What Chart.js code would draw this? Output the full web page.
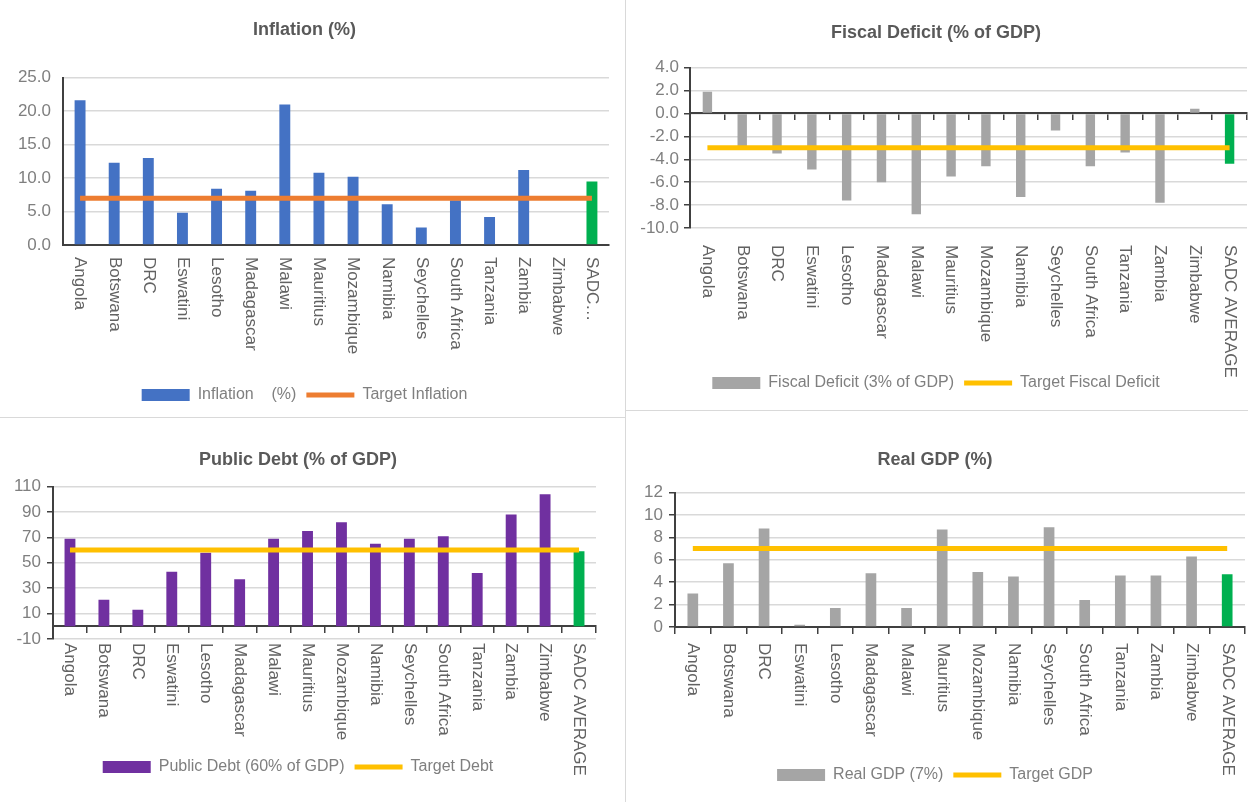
<!DOCTYPE html>
<html>
<head>
<meta charset="utf-8">
<script src="https://cdn.jsdelivr.net/npm/chart.js@4.4.0/dist/chart.umd.min.js"></script>
<style>
body { margin: 0; background: #fff; width: 1248px; height: 802px; overflow: hidden; position: relative; }
canvas { position: absolute; }
.line { position: absolute; background: #d9d9d9; }
</style>
</head>
<body>
<canvas id="inflationChart" width="625" height="418" style="left:0;top:0"></canvas>
<canvas id="fiscalChart" width="623" height="418" style="left:625px;top:0"></canvas>
<canvas id="debtChart" width="625" height="384" style="left:0;top:418px"></canvas>
<canvas id="gdpChart" width="623" height="384" style="left:625px;top:418px"></canvas>
<div class="line" style="left:625px;top:0;width:1px;height:802px"></div>
<div class="line" style="left:0;top:417px;width:625px;height:1px"></div>
<div class="line" style="left:626px;top:410px;width:622px;height:1px"></div>
<script>
var countries = ['Angola', 'Botswana', 'DRC', 'Eswatini', 'Lesotho', 'Madagascar', 'Malawi', 'Mauritius',
    'Mozambique', 'Namibia', 'Seychelles', 'South Africa', 'Tanzania', 'Zambia', 'Zimbabwe', 'SADC AVERAGE'];
// the inflation panel cuts the last label short
var inflationLabels = ['Angola', 'Botswana', 'DRC', 'Eswatini', 'Lesotho', 'Madagascar', 'Malawi', 'Mauritius',
    'Mozambique', 'Namibia', 'Seychelles', 'South Africa', 'Tanzania', 'Zambia', 'Zimbabwe', 'SADC\u2026'];

var inflation = [21.6, 12.3, 13.0, 4.8, 8.4, 8.1, 21.0, 10.8, 10.2, 6.1, 2.6, 6.7, 4.2, 11.2, null, 9.5];
var inflationTarget = [7, 7, 7, 7, 7, 7, 7, 7, 7, 7, 7, 7, 7, 7, 7, 7];
var inflationTicks = [0, 5, 10, 15, 20, 25];

var fiscalDeficit = [1.9, -2.9, -3.5, -4.9, -7.6, -6.0, -8.8, -5.5, -4.6, -7.3, -1.5, -4.6, -3.4, -7.8, 0.4, -4.4];
var fiscalTarget = [-3, -3, -3, -3, -3, -3, -3, -3, -3, -3, -3, -3, -3, -3, -3, -3];
var fiscalTicks = [-10, -8, -6, -4, -2, 0, 2, 4];

var publicDebt = [69, 21, 13, 43, 58, 37, 69, 75, 82, 65, 69, 71, 42, 88, 104, 59];
var debtTarget = [60, 60, 60, 60, 60, 60, 60, 60, 60, 60, 60, 60, 60, 60, 60, 60];
var debtTicks = [-10, 10, 30, 50, 70, 90, 110];

var realGdp = [3.0, 5.7, 8.8, 0.2, 1.7, 4.8, 1.7, 8.7, 4.9, 4.5, 8.9, 2.4, 4.6, 4.6, 6.3, 4.7];
var gdpTarget = [7, 7, 7, 7, 7, 7, 7, 7, 7, 7, 7, 7, 7, 7, 7, 7];
var gdpTicks = [0, 2, 4, 6, 8, 10, 12];

var FONT = "'Liberation Sans', Arial, sans-serif";
var GREEN = '#00B050';

// category names are written top-to-bottom, like the Excel original
var verticalLabels = {
    id: 'verticalLabels',
    afterDraw: function(chart, args, opts) {
        var ctx = chart.ctx;
        var xs = chart.scales.x;
        var top = chart.chartArea.bottom + opts.offset;
        ctx.save();
        ctx.font = '17px ' + FONT;
        ctx.fillStyle = '#626262';
        ctx.textAlign = 'left';
        ctx.textBaseline = 'middle';
        opts.labels.forEach(function(label, i) {
            ctx.save();
            ctx.translate(xs.getPixelForValue(i), top);
            ctx.rotate(Math.PI / 2);
            ctx.fillText(label, 0, 0);
            ctx.restore();
        });
        ctx.restore();
    }
};

function barColors(values, color) {
    return values.map(function(v, i) { return i === values.length - 1 ? GREEN : color; });
}

function makeChart(id, c) {
    var ctx = document.getElementById(id).getContext('2d');
    return new Chart(ctx, {
        type: 'bar',
        data: {
            labels: countries,
            datasets: [{
                label: c.barLabel,
                data: c.values,
                backgroundColor: barColors(c.values, c.barColor),
                barPercentage: c.barPct,
                categoryPercentage: 1,
                pointStyle: 'rect',
                order: 1
            }, {
                type: 'line',
                label: c.lineLabel,
                data: c.target,
                borderColor: c.lineColor,
                backgroundColor: c.lineColor,
                borderWidth: 5,
                pointRadius: 0,
                pointStyle: 'line',
                order: 0
            }]
        },
        plugins: [verticalLabels],
        options: {
            responsive: false,
            animation: false,
            layout: { padding: { left: 0, right: c.padRight, top: 0, bottom: c.padBottom } },
            plugins: {
                title: {
                    display: true, text: c.title, color: '#595959',
                    font: { family: FONT, size: 18, weight: 'bold' },
                    padding: { top: c.titleTop, bottom: c.titleBottom }
                },
                legend: {
                    position: 'bottom',
                    labels: {
                        usePointStyle: true, pointStyleWidth: 48, boxHeight: 12,
                        color: '#7f7f7f', font: { family: FONT, size: 16 }, padding: 10,
                        sort: function(a, b) { return a.datasetIndex - b.datasetIndex; }
                    }
                },
                tooltip: { enabled: false },
                verticalLabels: { labels: c.labels, offset: c.labelOffset }
            },
            scales: {
                x: {
                    axis: 'x',
                    position: { y: 0 },
                    grid: { drawOnChartArea: false, offset: true, drawTicks: c.xTicks, tickLength: 6, color: '#404040', lineWidth: 1.5 },
                    border: { color: '#404040', width: 2 },
                    ticks: { display: false }
                },
                xPad: {
                    axis: 'x', type: 'category', position: 'bottom',
                    grid: { display: false }, border: { display: false }, ticks: { display: false },
                    afterFit: function(s) { s.height = c.labelSpace; }
                },
                y: {
                    min: c.ticks[0],
                    max: c.ticks[c.ticks.length - 1],
                    afterBuildTicks: function(axis) {
                        axis.ticks = c.ticks.map(function(v) { return { value: v }; });
                    },
                    afterFit: function(s) { s.width = c.yWidth; },
                    ticks: {
                        autoSkip: false,
                        color: '#7f7f7f', font: { family: FONT, size: 17 }, padding: c.yPad,
                        callback: function(v) { return c.decimals ? v.toFixed(1) : String(v); }
                    },
                    grid: { color: '#d9d9d9', tickColor: '#404040', drawTicks: c.yTicks, tickLength: 6, lineWidth: 1.5 },
                    border: { color: '#404040', width: 2 }
                }
            }
        }
    });
}

makeChart('inflationChart', {
    title: 'Inflation (%)', barLabel: 'Inflation    (%)', lineLabel: 'Target Inflation',
    values: inflation, target: inflationTarget, ticks: inflationTicks, labels: inflationLabels,
    barColor: '#4472C4', lineColor: '#ED7D31', decimals: true, barPct: 0.32,
    padRight: 16, padBottom: 5, titleTop: 19, titleBottom: 37, labelSpace: 132, labelOffset: 12,
    yWidth: 63, yPad: 12, yTicks: false, xTicks: false
});

makeChart('fiscalChart', {
    title: 'Fiscal Deficit (% of GDP)', barLabel: 'Fiscal Deficit (3% of GDP)', lineLabel: 'Target Fiscal Deficit',
    values: fiscalDeficit, target: fiscalTarget, ticks: fiscalTicks, labels: countries,
    barColor: '#A5A5A5', lineColor: '#FFC000', decimals: true, barPct: 0.27,
    padRight: 1, padBottom: 17, titleTop: 22, titleBottom: 24, labelSpace: 137, labelOffset: 17,
    yWidth: 65, yPad: 5, yTicks: true, xTicks: true
});

makeChart('debtChart', {
    title: 'Public Debt (% of GDP)', barLabel: 'Public Debt (60% of GDP)', lineLabel: 'Target Debt',
    values: publicDebt, target: debtTarget, ticks: debtTicks, labels: countries,
    barColor: '#7030A0', lineColor: '#FFC000', decimals: false, barPct: 0.32,
    padRight: 29, padBottom: 17, titleTop: 31, titleBottom: 16, labelSpace: 110, labelOffset: 4,
    yWidth: 53, yPad: 6, yTicks: true, xTicks: true
});

makeChart('gdpChart', {
    title: 'Real GDP (%)', barLabel: 'Real GDP (7%)', lineLabel: 'Target GDP',
    values: realGdp, target: gdpTarget, ticks: gdpTicks, labels: countries,
    barColor: '#A5A5A5', lineColor: '#FFC000', decimals: false, barPct: 0.3,
    padRight: 3, padBottom: 9, titleTop: 31, titleBottom: 22, labelSpace: 130, labelOffset: 16,
    yWidth: 50, yPad: 6, yTicks: true, xTicks: true
});
</script>
</body>
</html>
